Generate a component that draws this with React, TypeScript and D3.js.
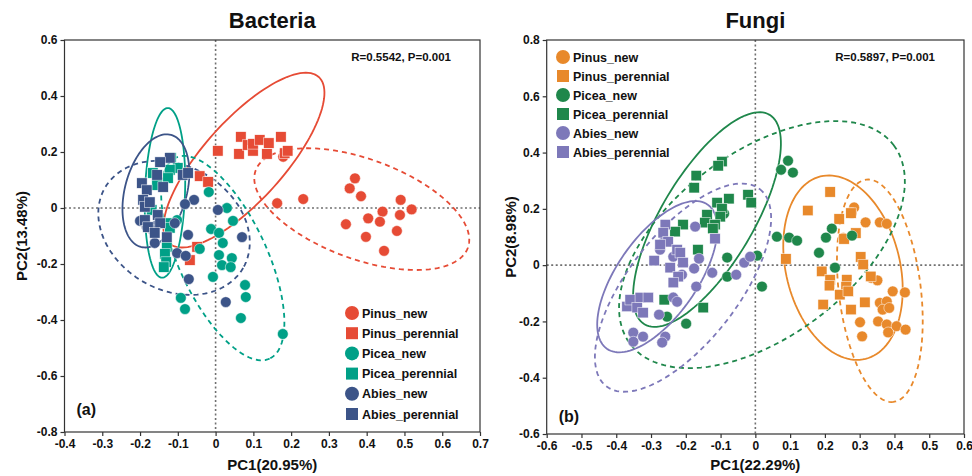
import React, { useEffect, useRef } from "react";
import * as d3 from "d3";

const groups = ["Pinus_new", "Pinus_perennial", "Picea_new", "Picea_perennial", "Abies_new", "Abies_perennial"];

// ---- Bacteria (a) ----
const bacPinusNew = [
  [0.179, 0.183], [0.163, 0.017], [0.232, 0.032], [0.369, 0.106], [0.355, 0.07], [0.385, 0.042],
  [0.345, -0.058], [0.404, -0.037], [0.442, -0.013], [0.435, -0.049], [0.398, -0.103], [0.446, -0.153],
  [0.49, 0.029], [0.488, -0.025], [0.519, -0.005], [0.48, -0.082],
];
const bacPinusPer = [
  [0.006, 0.204], [-0.042, 0.114], [-0.02, 0.093], [-0.049, -0.139], [-0.068, -0.186], [0.062, 0.193],
  [0.067, 0.254], [0.085, 0.225], [0.099, 0.204], [0.099, 0.229], [0.117, 0.243], [0.136, 0.193],
  [0.141, 0.232], [0.173, 0.254], [0.183, 0.196], [0.191, 0.204],
];
const bacPiceaNew = [
  [-0.018, 0.057], [0.03, 0.0], [0.046, -0.046], [-0.012, -0.075], [0.009, -0.089], [0.019, -0.125],
  [-0.042, -0.146], [0.009, -0.168], [0.043, -0.179], [0.017, -0.204], [0.04, -0.211], [-0.007, -0.246],
  [0.078, -0.275], [0.08, -0.318], [-0.092, -0.321], [-0.081, -0.361], [0.067, -0.393], [0.178, -0.45],
  [-0.102, -0.043],
];
const bacPiceaPer = [
  [-0.118, 0.179], [-0.1, 0.143], [-0.121, 0.136], [-0.166, 0.125], [-0.126, 0.107], [-0.155, 0.082],
  [-0.169, -0.007], [-0.129, -0.054], [-0.129, -0.139], [-0.134, -0.164], [-0.131, -0.193], [-0.137, -0.211],
  [-0.121, -0.071],
];
const bacAbiesNew = [
  [-0.057, 0.029], [-0.081, 0.014], [0.006, -0.007], [-0.2, -0.046], [-0.153, -0.025], [-0.108, -0.054],
  [-0.155, -0.061], [-0.166, -0.079], [-0.182, -0.068], [-0.073, -0.096], [0.07, -0.104], [-0.161, -0.125],
  [-0.102, -0.161], [-0.079, -0.171], [-0.071, -0.254], [0.027, -0.336],
];
const bacAbiesPer = [
  [-0.121, 0.179], [-0.147, 0.164], [-0.155, 0.118], [-0.087, 0.118], [-0.073, 0.125], [-0.195, 0.089],
  [-0.182, 0.064], [-0.192, 0.029], [-0.187, 0.004], [-0.174, 0.021], [-0.139, 0.075], [-0.153, -0.025],
  [-0.147, -0.054], [-0.187, -0.043], [-0.179, -0.068], [-0.129, -0.104], [-0.161, -0.089],
];
// ellipse: centre x, centre y, semi-axis 1 (dx, dy), semi-axis 2 (dx, dy), in PC units
const bacEllipses = [
  [0.387, -0.004, 0.281, -0.138, -0.045, -0.168],
  [0.075, 0.171, 0.198, 0.297, 0.079, -0.096],
  [0.019, -0.179, 0.124, -0.359, -0.106, -0.066],
  [-0.134, 0.054, 0.008, 0.303, 0.053, -0.003],
  [-0.11, -0.071, 0.183, -0.143, -0.082, -0.192],
  [-0.158, 0.061, 0.04, 0.2, 0.079, -0.029],
];
const bacXTicks = [-0.4, -0.3, -0.2, -0.1, 0, 0.1, 0.2, 0.3, 0.4, 0.5, 0.6, 0.7];
const bacYTicks = [-0.8, -0.6, -0.4, -0.2, 0, 0.2, 0.4, 0.6];

// ---- Fungi (b) ----
const funPinusNew = [
  [0.284, 0.205], [0.277, 0.185], [0.317, 0.152], [0.358, 0.152], [0.378, 0.147], [0.253, 0.097],
  [0.334, -0.045], [0.351, -0.054], [0.395, -0.093], [0.43, -0.097], [0.358, -0.134], [0.378, -0.129],
  [0.366, -0.158], [0.385, -0.152], [0.353, -0.2], [0.378, -0.211], [0.406, -0.217], [0.432, -0.229],
  [0.382, -0.239], [0.301, -0.203], [0.307, -0.253],
];
const funPinusPer = [
  [0.215, 0.26], [0.151, 0.194], [0.275, 0.185], [0.241, 0.164], [0.289, 0.114], [0.255, 0.093],
  [0.088, 0.022], [0.303, 0.029], [0.31, 0.002], [0.191, -0.022], [0.332, -0.04], [0.215, -0.052],
  [0.213, -0.073], [0.263, -0.052], [0.261, -0.077], [0.243, -0.105], [0.267, -0.093], [0.195, -0.14],
  [0.315, -0.132], [0.275, -0.158],
];
const funPiceaNew = [
  [0.094, 0.371], [0.074, 0.339], [0.108, 0.329], [0.062, 0.101], [0.097, 0.098], [0.12, 0.087],
  [0.22, 0.13], [0.203, 0.098], [0.183, 0.044], [0.278, 0.105], [0.229, -0.009], [0.019, -0.076],
  [0.005, 0.034], [-0.081, 0.027], [-0.081, -0.041], [-0.09, 0.183], [-0.254, -0.183], [-0.199, -0.208],
];
const funPiceaPer = [
  [-0.096, 0.368], [-0.107, 0.353], [-0.17, 0.318], [-0.176, 0.275], [-0.021, 0.25], [-0.012, 0.222],
  [-0.076, 0.236], [-0.11, 0.222], [-0.096, 0.201], [-0.139, 0.179], [-0.101, 0.172], [-0.145, 0.151],
  [-0.116, 0.144], [-0.208, 0.144], [-0.231, 0.119], [-0.122, 0.13], [-0.165, 0.055], [-0.262, -0.123],
  [-0.15, -0.151],
];
const funAbiesNew = [
  [-0.173, 0.137], [-0.162, 0.023], [-0.176, -0.012], [-0.124, -0.027], [-0.055, -0.034], [-0.032, 0.009],
  [-0.015, 0.03], [-0.17, -0.076], [-0.211, -0.034], [-0.236, -0.115], [-0.225, -0.13], [-0.277, -0.176],
  [-0.259, -0.254], [-0.268, -0.275], [-0.351, -0.24], [-0.323, -0.254], [-0.351, -0.272], [-0.274, 0.055],
  [-0.236, 0.03], [-0.265, 0.08],
];
const funAbiesPer = [
  [-0.259, 0.144], [-0.265, 0.115], [-0.251, 0.083], [-0.274, 0.073], [-0.225, 0.055], [-0.216, 0.044],
  [-0.291, 0.016], [-0.245, -0.009], [-0.208, 0.009], [-0.222, -0.041], [-0.236, -0.062], [-0.116, 0.094],
  [-0.369, -0.147], [-0.36, -0.123], [-0.331, -0.115], [-0.308, -0.115], [-0.34, -0.151], [-0.323, -0.169],
];
const funEllipses = [
  [0.358, -0.091, 0.039, -0.395, -0.117, -0.018],
  [0.252, -0.009, 0.065, -0.324, -0.159, -0.049],
  [0.019, 0.073, 0.379, 0.353, 0.159, -0.261],
  [-0.139, 0.162, 0.18, 0.372, 0.113, -0.084],
  [-0.208, -0.08, 0.221, 0.35, 0.124, -0.12],
  [-0.282, -0.041, 0.145, 0.256, 0.094, -0.082],
];
const funXTicks = [-0.6, -0.5, -0.4, -0.3, -0.2, -0.1, 0, 0.1, 0.2, 0.3, 0.4, 0.5, 0.6];
const funYTicks = [-0.6, -0.4, -0.2, 0, 0.2, 0.4, 0.6, 0.8];

const FONT = "'Liberation Sans', Arial, Helvetica, sans-serif";
const fmt = (v) => (Math.abs(v) < 1e-9 ? "0" : v.toFixed(1));

const panels = [
  {
    left: 64.5, right: 480, top: 40, bottom: 432,
    xDomain: [-0.4, 0.7], yDomain: [-0.8, 0.6],
    xTicks: bacXTicks, yTicks: bacYTicks,
    series: [bacPinusNew, bacPinusPer, bacPiceaNew, bacPiceaPer, bacAbiesNew, bacAbiesPer],
    ellipses: bacEllipses,
    colors: ["#E64B35", "#E64B35", "#00A087", "#00A087", "#3C5488", "#3C5488"],
    title: "Bacteria", xTitle: "PC1(20.95%)", yTitle: "PC2(13.48%)", yTitleX: 27,
    stat: "R=0.5542, P=0.001", tag: "(a)", tagY: 415,
    legendX: 352, legendY: 313, legendGap: 20.2,
  },
  {
    left: 546.7, right: 964, top: 40, bottom: 434,
    xDomain: [-0.6, 0.6], yDomain: [-0.6, 0.8],
    xTicks: funXTicks, yTicks: funYTicks,
    series: [funPinusNew, funPinusPer, funPiceaNew, funPiceaPer, funAbiesNew, funAbiesPer],
    ellipses: funEllipses,
    colors: ["#E8892B", "#E8892B", "#1F874B", "#1F874B", "#7D78B9", "#7D78B9"],
    title: "Fungi", xTitle: "PC1(22.29%)", yTitle: "PC2(8.98%)", yTitleX: 516,
    stat: "R=0.5897, P=0.001", tag: "(b)", tagY: 422,
    legendX: 563, legendY: 57, legendGap: 19,
  },
];

function drawPanel(svg, p) {
  const x = d3.scaleLinear().domain(p.xDomain).range([p.left, p.right]);
  const y = d3.scaleLinear().domain(p.yDomain).range([p.bottom, p.top]);
  const g = svg.append("g").attr("font-family", FONT);

  // zero lines
  g.append("line")
    .attr("x1", x(0)).attr("x2", x(0)).attr("y1", p.top).attr("y2", p.bottom)
    .attr("stroke", "#707070").attr("stroke-width", 1.6).attr("stroke-dasharray", "2,2.5");
  g.append("line")
    .attr("x1", p.left).attr("x2", p.right).attr("y1", y(0)).attr("y2", y(0))
    .attr("stroke", "#707070").attr("stroke-width", 1.6).attr("stroke-dasharray", "2,2.5");

  // confidence ellipses
  const line = d3.line().x((d) => x(d[0])).y((d) => y(d[1])).curve(d3.curveLinearClosed);
  const angles = d3.range(0, 120).map((i) => (i / 120) * Math.PI * 2);
  p.ellipses.forEach((e, i) => {
    const pts = angles.map((t) => [
      e[0] + Math.cos(t) * e[2] + Math.sin(t) * e[4],
      e[1] + Math.cos(t) * e[3] + Math.sin(t) * e[5],
    ]);
    g.append("path")
      .attr("d", line(pts))
      .attr("fill", "none")
      .attr("stroke", p.colors[i])
      .attr("stroke-width", 1.8)
      .attr("stroke-dasharray", i % 2 === 0 ? "5,4" : null);
  });

  // points
  p.series.forEach((s, i) => {
    const isSquare = i % 2 === 1;
    const sel = g.append("g").selectAll(isSquare ? "rect" : "circle").data(s);
    if (isSquare) {
      sel.join("rect")
        .attr("x", (d) => x(d[0]) - 5.2).attr("y", (d) => y(d[1]) - 5.2)
        .attr("width", 10.4).attr("height", 10.4)
        .attr("fill", p.colors[i]).attr("stroke", "#fff").attr("stroke-width", 0.5);
    } else {
      sel.join("circle")
        .attr("cx", (d) => x(d[0])).attr("cy", (d) => y(d[1])).attr("r", 5.4)
        .attr("fill", p.colors[i]).attr("stroke", "#fff").attr("stroke-width", 0.5);
    }
  });

  // frame
  g.append("rect")
    .attr("x", p.left).attr("y", p.top)
    .attr("width", p.right - p.left).attr("height", p.bottom - p.top)
    .attr("fill", "none").attr("stroke", "#333").attr("stroke-width", 1.2);

  // axes
  const styleAxis = (a) => {
    a.select(".domain").remove();
    a.selectAll(".tick line").attr("stroke", "#333").attr("stroke-width", 1.2);
    a.selectAll("text").attr("font-family", FONT).attr("font-size", 12).attr("font-weight", "bold").attr("fill", "#111");
  };
  g.append("g")
    .attr("transform", `translate(0,${p.bottom})`)
    .call(d3.axisBottom(x).tickValues(p.xTicks).tickFormat(fmt).tickSize(4).tickSizeOuter(0))
    .call(styleAxis);
  g.append("g")
    .attr("transform", `translate(${p.left},0)`)
    .call(d3.axisLeft(y).tickValues(p.yTicks).tickFormat(fmt).tickSize(4).tickSizeOuter(0))
    .call(styleAxis);

  const cx = (p.left + p.right) / 2;
  const cy = (p.top + p.bottom) / 2;
  g.append("text").attr("x", cx).attr("y", 28).attr("text-anchor", "middle")
    .attr("font-size", 22).attr("font-weight", "bold").attr("fill", "#111").text(p.title);
  g.append("text").attr("x", cx).attr("y", 470).attr("text-anchor", "middle")
    .attr("font-size", 15).attr("font-weight", "bold").attr("fill", "#111").text(p.xTitle);
  g.append("text").attr("transform", `translate(${p.yTitleX},${cy}) rotate(-90)`).attr("text-anchor", "middle")
    .attr("font-size", 15).attr("font-weight", "bold").attr("fill", "#111").text(p.yTitle);
  g.append("text").attr("x", p.right - 29).attr("y", 61).attr("text-anchor", "end")
    .attr("font-size", 11.5).attr("font-weight", "bold").attr("fill", "#111").text(p.stat);
  g.append("text").attr("x", p.left + 12).attr("y", p.tagY)
    .attr("font-size", 16).attr("font-weight", "bold").attr("fill", "#111").text(p.tag);

  // legend
  const lg = g.append("g");
  groups.forEach((name, i) => {
    const ly = p.legendY + i * p.legendGap;
    if (i % 2 === 1) {
      lg.append("rect").attr("x", p.legendX - 6).attr("y", ly - 6).attr("width", 12).attr("height", 12)
        .attr("fill", p.colors[i]);
    } else {
      lg.append("circle").attr("cx", p.legendX).attr("cy", ly).attr("r", 7).attr("fill", p.colors[i]);
    }
    lg.append("text").attr("x", p.legendX + 10).attr("y", ly + 4.5)
      .attr("font-size", 12.5).attr("font-weight", "bold").attr("fill", "#111").text(name);
  });
}

const App = () => {
  const ref = useRef(null);
  useEffect(() => {
    const svg = d3.select(ref.current);
    svg.selectAll("*").remove();
    svg.append("rect").attr("width", 972).attr("height", 476).attr("fill", "#fff");
    panels.forEach((p) => drawPanel(svg, p));
  }, []);
  return (
    <svg
      ref={ref}
      width={972}
      height={476}
      viewBox="0 0 972 476"
      style={{ position: "absolute", left: 0, top: 0, display: "block" }}
    />
  );
};

export default App;
